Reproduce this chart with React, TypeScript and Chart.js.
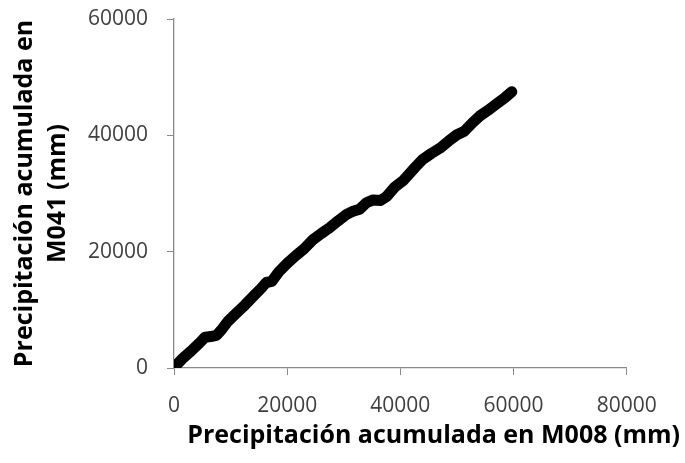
import React, { useEffect, useRef } from "react";
import { Chart, registerables } from "chart.js";

Chart.register(...registerables);

// Cumulative precipitation (mm) at station M008 (x) and M041 (y)
const m008Cumulative = [
  200, 1500, 3000, 4500, 5500, 6500, 7500, 8500, 9500, 11000, 12500, 14000,
  15500, 16300, 17300, 18500, 20000, 21500, 23000, 24600, 26000, 27500, 29000,
  30500, 31500, 32800, 34000, 35200, 36500, 37600, 39000, 40500, 41500, 42700,
  44000, 45500, 47000, 48500, 50000, 51300, 52800, 54000, 55500, 57000, 58500,
  59700,
];
const m041Cumulative = [
  300, 1600, 2900, 4300, 5300, 5400, 5600, 6700, 8000, 9400, 10800, 12300,
  13800, 14700, 14900, 16500, 18000, 19300, 20500, 22100, 23100, 24100, 25300,
  26400, 26900, 27300, 28400, 28900, 28800, 29500, 31100, 32200, 33300, 34600,
  35900, 36900, 37800, 39000, 40100, 40700, 42200, 43300, 44300, 45400, 46500,
  47500,
];

const xTickValues = [0, 20000, 40000, 60000, 80000];
const yTickValues = [0, 20000, 40000, 60000];

const xTitle = "Precipitación acumulada en M008 (mm)";
const yTitle = ["Precipitación acumulada en", "M041 (mm)"];

export default function App() {
  const canvasRef = useRef<HTMLCanvasElement | null>(null);

  useEffect(() => {
    if (!canvasRef.current) return;
    const points = m008Cumulative.map((x, i) => ({ x, y: m041Cumulative[i] }));
    const axisColor = "#8a8a8a";
    const tickColor = "#404040";

    const chart = new Chart(canvasRef.current, {
      type: "scatter",
      data: {
        datasets: [
          {
            data: points,
            showLine: true,
            borderColor: "#000000",
            backgroundColor: "#000000",
            borderWidth: 11,
            borderCapStyle: "round",
            borderJoinStyle: "round",
            pointRadius: 0,
            tension: 0,
          },
        ],
      },
      options: {
        animation: false,
        responsive: false,
        events: [],
        layout: { padding: { top: 19, right: 5, left: 0, bottom: 0 } },
        plugins: {
          legend: { display: false },
          tooltip: { enabled: false },
          title: {
            display: true,
            text: xTitle,
            position: "bottom",
            align: "end",
            color: "#000000",
            font: { family: "Open Sans", size: 25, weight: "bold", lineHeight: 1.2 },
            padding: { top: 0, bottom: 12 },
          },
        },
        scales: {
          x: {
            type: "linear",
            min: 0,
            max: 80000,
            afterBuildTicks: (scale: any) => {
              scale.ticks = xTickValues.map((v) => ({ value: v }));
            },
            afterFit: (scale: any) => {
              scale.height = 53;
              scale.paddingRight = 58.3;
            },
            grid: {
              display: true,
              drawOnChartArea: false,
              drawTicks: true,
              tickLength: 7,
              color: axisColor,
            },
            border: { display: true, color: axisColor, width: 1.3 },
            ticks: {
              color: tickColor,
              padding: 18,
              font: { family: "Open Sans", size: 21 },
              callback: (v: any) => String(v),
            },
          },
          y: {
            type: "linear",
            min: 0,
            max: 60000,
            afterBuildTicks: (scale: any) => {
              scale.ticks = yTickValues.map((v) => ({ value: v }));
            },
            afterFit: (scale: any) => {
              scale.width = 174;
              scale.paddingTop = 0;
              scale.paddingBottom = 0;
            },
            grid: {
              display: true,
              drawOnChartArea: false,
              drawTicks: true,
              tickLength: 7,
              color: axisColor,
            },
            border: { display: true, color: axisColor, width: 1.3 },
            ticks: {
              color: tickColor,
              padding: 19,
              font: { family: "Open Sans", size: 21 },
              callback: (v: any) => String(v),
            },
            title: {
              display: true,
              text: yTitle,
              color: "#000000",
              font: { family: "Open Sans", size: 25, weight: "bold", lineHeight: 1.3 },
              padding: { top: 9, bottom: 0 },
            },
          },
        },
      },
    });
    return () => chart.destroy();
  }, []);

  return (
    <div style={{ position: "absolute", left: 0, top: 0, width: 685, height: 463, background: "#ffffff" }}>
      <canvas ref={canvasRef} width={685} height={463} style={{ display: "block" }} />
    </div>
  );
}
